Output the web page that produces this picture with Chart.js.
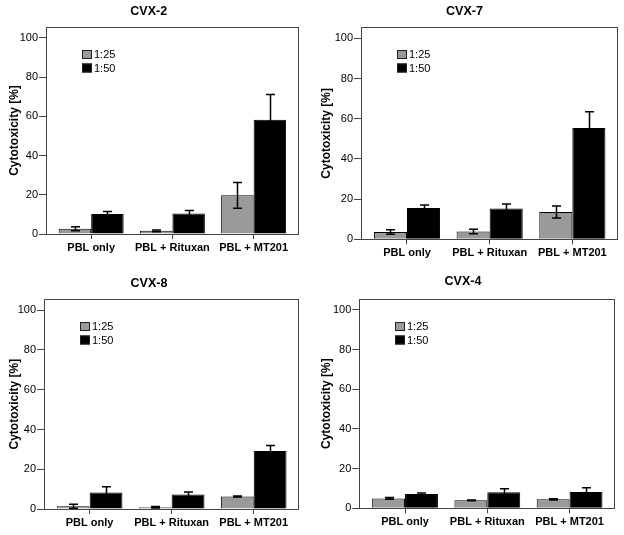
<!DOCTYPE html>
<html>
<head>
<meta charset="utf-8">
<script src="https://cdn.jsdelivr.net/npm/chart.js@4.4.1/dist/chart.umd.min.js"></script>
<style>
  body { margin: 0; background: #fff; }
  #wrap { position: relative; width: 624px; height: 535px; }
  canvas { position: absolute; }
</style>
</head>
<body>
<div id="wrap">
  <canvas id="c0"></canvas>
  <canvas id="c1"></canvas>
  <canvas id="c2"></canvas>
  <canvas id="c3"></canvas>
</div>
<script>
const categories = ["PBL only", "PBL + Rituxan", "PBL + MT201"];
const seriesLabels = ["1:25", "1:50"];
const panelTitles = ["CVX-2", "CVX-7", "CVX-8", "CVX-4"];
const yTicks = [0, 20, 40, 60, 80, 100];

// mean values and error (+/-) for each cell line
const cvx2Ratio25 = [2.7, 1.6, 19.7];
const cvx2Ratio25Err = [1.0, 0.4, 6.6];
const cvx2Ratio50 = [10.2, 10.5, 58.2];
const cvx2Ratio50Err = [1.3, 1.5, 12.9];

const cvx7Ratio25 = [3.6, 3.9, 13.6];
const cvx7Ratio25Err = [1.1, 1.1, 3.0];
const cvx7Ratio50 = [15.6, 15.3, 55.4];
const cvx7Ratio50Err = [1.5, 2.3, 8.1];

const cvx8Ratio25 = [1.4, 0.9, 6.3];
const cvx8Ratio25Err = [1.0, 0.4, 0.3];
const cvx8Ratio50 = [8.3, 7.3, 29.2];
const cvx8Ratio50Err = [2.9, 1.2, 2.7];

const cvx4Ratio25 = [5.0, 4.0, 4.5];
const cvx4Ratio25Err = [0.5, 0.2, 0.3];
const cvx4Ratio50 = [7.2, 8.1, 8.2];
const cvx4Ratio50Err = [0.5, 1.8, 2.1];

const panelData = [
    [cvx2Ratio25, cvx2Ratio25Err, cvx2Ratio50, cvx2Ratio50Err],
    [cvx7Ratio25, cvx7Ratio25Err, cvx7Ratio50, cvx7Ratio50Err],
    [cvx8Ratio25, cvx8Ratio25Err, cvx8Ratio50, cvx8Ratio50Err],
    [cvx4Ratio25, cvx4Ratio25Err, cvx4Ratio50, cvx4Ratio50Err]
];

// canvas box and plot frame (relative to canvas) for each panel
const panelLayout = [
    { x: 0,   y: 0,   w: 312, h: 268, L: 46,   T: 27,   R: 297.5, B: 234,   titleTop: 4.5 },
    { x: 312, y: 0,   w: 312, h: 268, L: 49,   T: 27.3, R: 305,   B: 239.3, titleTop: 4.2 },
    { x: 0,   y: 268, w: 312, h: 267, L: 44,   T: 31.3, R: 298,   B: 241,   titleTop: 7.8 },
    { x: 312, y: 268, w: 312, h: 267, L: 47.3, T: 31,   R: 302,   B: 240.3, titleTop: 6.2 }
];

const FONT = "'Liberation Sans', Arial, sans-serif";
const barColors = ["#9a9a9a", "#000000"];

// error bars drawn from dataset.errors
const errorBars = {
    id: "errorBars",
    afterDatasetsDraw(chart) {
        const ctx = chart.ctx;
        const yScale = chart.scales.y;
        ctx.save();
        ctx.strokeStyle = "#000";
        ctx.lineWidth = 1.5;
        chart.data.datasets.forEach((ds, i) => {
            const meta = chart.getDatasetMeta(i);
            meta.data.forEach((bar, j) => {
                const v = ds.data[j].y;
                const e = ds.errors[j];
                const top = yScale.getPixelForValue(v + e);
                const bot = yScale.getPixelForValue(Math.max(0, v - e));
                const x = Math.round(bar.x) + 0.5;
                ctx.beginPath();
                ctx.moveTo(x, top);
                ctx.lineTo(x, bot);
                ctx.moveTo(x - 4.5, top);
                ctx.lineTo(x + 4.5, top);
                ctx.moveTo(x - 4.5, bot);
                ctx.lineTo(x + 4.5, bot);
                ctx.stroke();
            });
        });
        ctx.restore();
    }
};

// frame around plot + legend inside top-left
const frameAndLegend = {
    id: "frameAndLegend",
    afterDraw(chart) {
        const ctx = chart.ctx;
        const a = chart.chartArea;
        ctx.save();
        ctx.strokeStyle = "#444";
        ctx.lineWidth = 1;
        ctx.strokeRect(Math.round(a.left) + 0.5, Math.round(a.top) + 0.5,
            Math.round(a.right - a.left), Math.round(a.bottom - a.top));

        let lx = Math.round(a.left + 35.5);
        let ly = Math.round(a.top + 23);
        ctx.font = "11px " + FONT;
        ctx.textBaseline = "middle";
        chart.data.datasets.forEach((ds) => {
            ctx.fillStyle = ds.backgroundColor;
            ctx.fillRect(lx, ly, 10, 9);
            ctx.strokeStyle = "#222";
            ctx.strokeRect(lx + 0.5, ly + 0.5, 9, 8);
            ctx.fillStyle = "#000";
            ctx.fillText(ds.label, lx + 12, ly + 5);
            ly += 13.5;
        });
        ctx.restore();
    }
};

panelLayout.forEach((lay, p) => {
    const canvas = document.getElementById("c" + p);
    canvas.width = lay.w;
    canvas.height = lay.h;
    canvas.style.left = lay.x + "px";
    canvas.style.top = lay.y + "px";

    const vals = panelData[p];
    const datasets = seriesLabels.map((label, s) => ({
        label: label,
        data: vals[s * 2].map((v, i) => ({ x: i, y: v })),
        errors: vals[s * 2 + 1],
        backgroundColor: barColors[s],
        borderColor: "#000",
        borderWidth: 1,
        categoryPercentage: 0.8,
        barPercentage: 1.0
    }));

    new Chart(canvas.getContext("2d"), {
        type: "bar",
        data: { datasets: datasets },
        options: {
            responsive: false,
            animation: false,
            layout: { padding: { left: 0, top: 0, right: lay.w - lay.R, bottom: 0 } },
            plugins: {
                legend: { display: false },
                tooltip: { enabled: false },
                title: {
                    display: true,
                    text: panelTitles[p],
                    color: "#000",
                    font: { family: FONT, size: 12.5, weight: "bold", lineHeight: 1.2 },
                    padding: { top: lay.titleTop, bottom: lay.T - 15 - lay.titleTop }
                }
            },
            scales: {
                x: {
                    type: "linear",
                    offset: false,
                    min: -0.556,
                    max: 2.54,
                    afterBuildTicks: (axis) => {
                        axis.ticks = categories.map((c, i) => ({ value: i }));
                    },
                    afterFit: (axis) => { axis.height = lay.h - lay.B; },
                    ticks: {
                        color: "#000",
                        padding: 2,
                        maxRotation: 0,
                        autoSkip: false,
                        font: { family: FONT, size: 11, weight: "bold" },
                        callback: (v) => categories[v] ?? ""
                    },
                    grid: { offset: false, drawOnChartArea: false, tickLength: 5, color: "#444" },
                    border: { color: "#444" }
                },
                y: {
                    min: 0,
                    max: 105.5,
                    afterBuildTicks: (axis) => {
                        axis.ticks = yTicks.map((v) => ({ value: v }));
                    },
                    afterFit: (axis) => { axis.width = lay.L; },
                    ticks: {
                        color: "#000",
                        padding: 1,
                        font: { family: FONT, size: 11 }
                    },
                    grid: { drawOnChartArea: false, tickLength: 7, color: "#444" },
                    border: { color: "#444" },
                    title: {
                        display: true,
                        text: "Cytotoxicity [%]",
                        color: "#000",
                        padding: { top: 7, bottom: 0 },
                        font: { family: FONT, size: 12, weight: "bold" }
                    }
                }
            }
        },
        plugins: [errorBars, frameAndLegend]
    });
});
</script>
</body>
</html>
